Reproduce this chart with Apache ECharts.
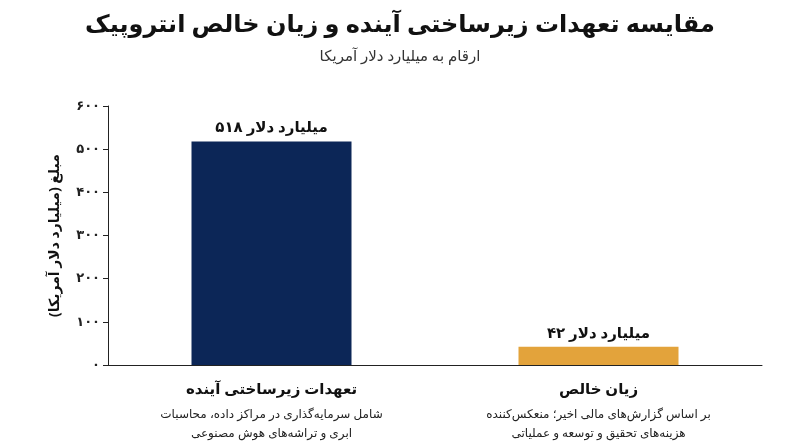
<!DOCTYPE html>
<html><head><meta charset="utf-8">
<script src="https://cdn.jsdelivr.net/npm/echarts@6/dist/echarts.min.js"></script>
<style>html,body{margin:0;padding:0;background:#fff}#c{width:800px;height:447px}</style>
</head><body><div id="c"></div>
<script>
const categories = ['تعهدات زیرساختی آینده', 'زیان خالص'];
const descriptions = ['شامل سرمایه‌گذاری در مراکز داده، محاسبات\nابری و تراشه‌های هوش مصنوعی', 'بر اساس گزارش‌های مالی اخیر؛ منعکس‌کننده\nهزینه‌های تحقیق و توسعه و عملیاتی'];
const values = [518, 42];
const colors = ['#0c2657', '#e3a33b'];
const fa = s => String(s).replace(/\d/g, d => '۰۱۲۳۴۵۶۷۸۹'[d]);
const F = '"Noto Sans", "DejaVu Sans", sans-serif';
const chart = echarts.init(document.getElementById('c'));
chart.setOption({
  animation: false,
  textStyle: { fontFamily: F },
  title: {
    text: 'مقایسه تعهدات زیرساختی آینده و زیان خالص انتروپیک',
    subtext: 'ارقام به میلیارد دلار آمریکا',
    left: 'center', top: 8, itemGap: 12,
    textStyle: { fontFamily: F, fontSize: 24, fontWeight: 'bold', color: '#111' },
    subtextStyle: { fontFamily: F, fontSize: 15, color: '#333' }
  },
  grid: { left: 108, right: 38, top: 106, bottom: 82 },
  xAxis: {
    type: 'category', data: categories,
    axisLine: { lineStyle: { color: '#222' } }, axisTick: { show: false },
    axisLabel: {
      interval: 0, margin: 10,
      formatter: (v, i) => '{t|' + v + '}\n{d|' + descriptions[i].split('\n').join('}\n{d|') + '}',
      rich: {
        t: { fontFamily: F, fontSize: 15, fontWeight: 'bold', color: '#111', lineHeight: 30 },
        d: { fontFamily: F, fontSize: 12, color: '#222', lineHeight: 19 }
      }
    }
  },
  yAxis: {
    type: 'value', min: 0, max: 600, interval: 100,
    name: 'مبلغ (میلیارد دلار آمریکا)', nameLocation: 'middle', nameGap: 46, nameRotate: 90,
    nameTextStyle: { fontFamily: F, fontSize: 14, fontWeight: 'bold', color: '#111' },
    axisLine: { show: true, lineStyle: { color: '#222' } },
    axisTick: { show: true, length: 5, lineStyle: { color: '#222' } },
    splitLine: { show: false },
    axisLabel: { formatter: v => fa(v), fontFamily: F, fontSize: 13, fontWeight: 'bold', color: '#222' }
  },
  series: [{
    type: 'bar', barWidth: 160,
    data: values.map((v, i) => ({ value: v, itemStyle: { color: colors[i] } })),
    label: { show: true, position: 'top', distance: 6, formatter: p => fa(p.value) + ' میلیارد دلار',
      fontFamily: F, fontSize: 15, fontWeight: 'bold', color: '#111' }
  }]
});
</script></body></html>
